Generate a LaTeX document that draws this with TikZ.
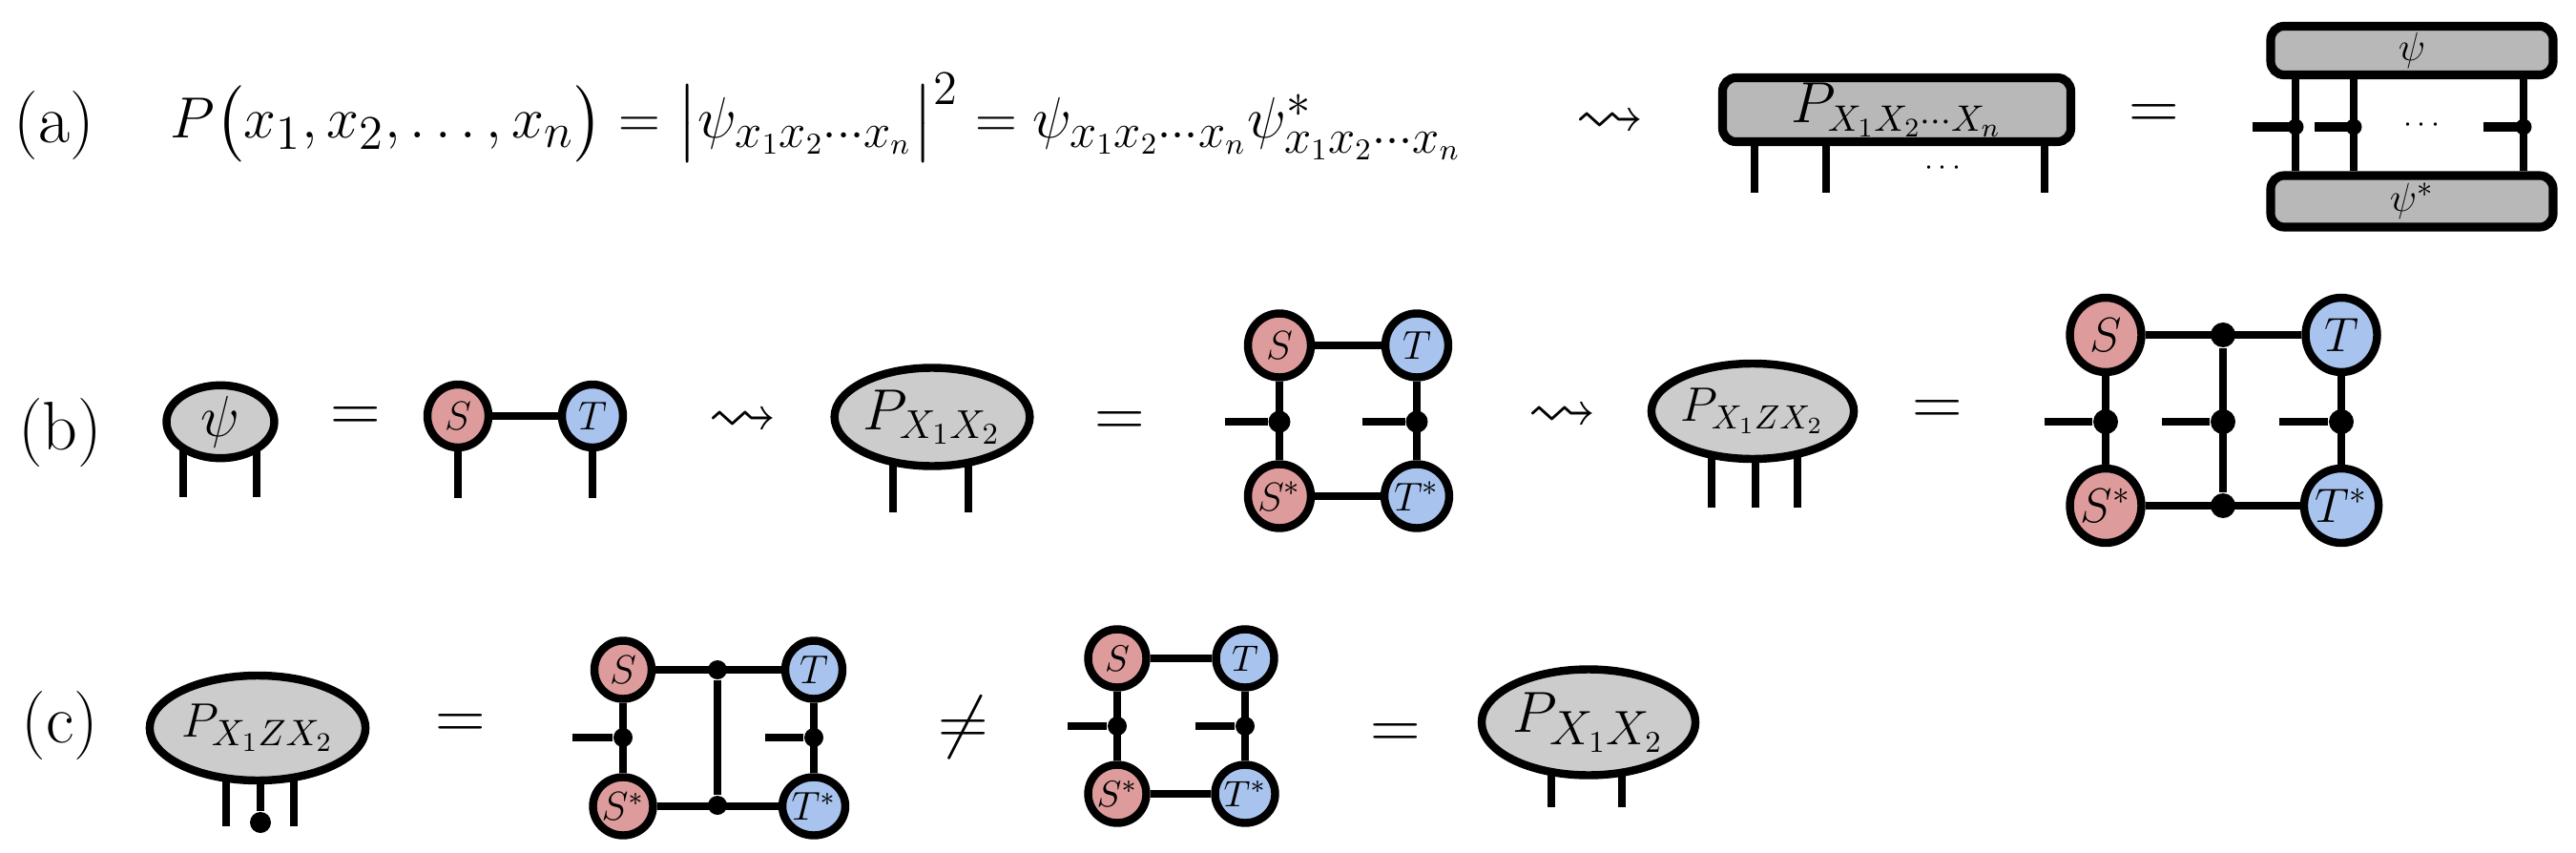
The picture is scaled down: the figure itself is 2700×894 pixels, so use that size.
\documentclass[tikz,border=0pt]{standalone}
\usepackage{amsmath}
\usepackage{amssymb}
\usetikzlibrary{shapes.geometric,backgrounds}

\definecolor{blobgray}{RGB}{204,204,204}
\definecolor{slabgray}{RGB}{184,184,184}
\definecolor{spink}{RGB}{222,155,155}
\definecolor{tblue}{RGB}{168,196,238}
\newcommand{\fsz}[1]{\fontsize{#1}{#1}\selectfont}

\tikzset{
  blob/.style={ellipse,draw,line width=2.4pt,fill=blobgray,inner sep=0pt},
  snode/.style={blob,fill=spink},
  tnode/.style={blob,fill=tblue},
  slab/.style={rectangle,rounded corners=4pt,draw,line width=2.6pt,fill=slabgray,inner sep=0pt},
  sz/.style 2 args={minimum width=#1*0.01cm,minimum height=#2*0.01cm},
  leg/.style={line width=2.4pt},
  junc/.style={circle,fill,inner sep=0pt,minimum size=#1*0.01cm},
  rel/.style={font=\fsz{20.5}},
}

\begin{document}
\begin{tikzpicture}[x=0.01cm,y=-0.01cm]
  \useasboundingbox (0,0) rectangle (2700,894);

  % (a)
  \node[rel,anchor=base] (la) at (57,150) {(a)};
  \node[font=\fsz{19},anchor=base west] (pform) at (166,145)
    {$P\bigl(x_1,x_2,\ldots,x_n\bigr)=\bigl|\psi_{x_1x_2\cdots x_n}\bigr|^2=\psi_{x_1x_2\cdots x_n}\psi^*_{x_1x_2\cdots x_n}$};
  \node[rel] (sqa) at (1688,130) {$\rightsquigarrow$};
  \node[slab,sz={365}{67},font=\fsz{16}] (pbox) at (1988,115) {$P_{X_1X_2\cdots X_n}$};
  \coordinate (pl1) at (1839,202);
  \coordinate (pl2) at (1914,202);
  \coordinate (pl3) at (2143,202);
  \node[font=\fsz{9.5}] (pdots) at (2039,176) {$\cdots$};
  \node[rel] (eqa) at (2258,123) {$=$};
  \node[slab,sz={296}{51},font=\fsz{13}] (psibox) at (2528,53) {$\psi$};
  \node[slab,sz={296}{54},font=\fsz{13}] (psisbox) at (2528,211) {$\psi^*$};
  \node[junc=17] (ja1) at (2406,133) {};
  \node[junc=17] (ja2) at (2467,133) {};
  \node[junc=17] (ja3) at (2645,133) {};
  \coordinate (sa1) at (2361,133);
  \coordinate (sa2) at (2426,133);
  \coordinate (sa3) at (2603,133);
  \node[font=\fsz{9.5}] (adots) at (2541,131) {$\cdots$};
  \foreach \j in {1,2,3} {
    \draw[leg] (psibox.south -| ja\j) -- (psisbox.north -| ja\j);
    \draw[leg,line width=2.8pt] (sa\j) -- (ja\j.center);
  }

  % (b)
  \node[rel,anchor=base] (lb) at (63,471) {(b)};
  \node[blob,sz={113}{72},font=\fsz{16}] (psi) at (231,442) {$\psi$};
  \coordinate (bl1) at (192,521);
  \coordinate (bl2) at (269,521);
  \node[rel] (eqb1) at (373,440) {$=$};
  \node[snode,sz={64}{66},font=\fsz{12}] (S1) at (480,436) {$S$};
  \node[tnode,sz={64}{66},font=\fsz{12}] (T1) at (621,436) {$T$};
  \coordinate (bl3) at (480,522);
  \coordinate (bl4) at (621,522);
  \draw[leg] (S1) -- (T1);
  \draw[leg] (S1) -- (bl3);
  \draw[leg] (T1) -- (bl4);
  \node[rel] (sqb1) at (779,443) {$\rightsquigarrow$};

  \node[blob,sz={168}{103},font=\fsz{17.5}] (pb) at (977,437) {$P_{X_1X_2}$};
  \coordinate (bl5) at (936,537);
  \coordinate (bl6) at (1015,537);
  \node[rel] (eqb2) at (1174,445) {$=$};
  \node[snode,sz={66}{67},font=\fsz{13}] (S2) at (1341,362) {$S$};
  \node[tnode,sz={66}{67},font=\fsz{13}] (T2) at (1485,362) {$T$};
  \node[snode,sz={66}{67},font=\fsz{13}] (Ss2) at (1341,520) {$S^*$};
  \node[tnode,sz={66}{67},font=\fsz{13}] (Ts2) at (1485,520) {$T^*$};
  \draw[leg] (S2) -- (T2);
  \draw[leg] (Ss2) -- (Ts2);
  \draw[leg] (S2) -- (Ss2);
  \draw[leg] (T2) -- (Ts2);
  \node[junc=23] (jb1) at (1341,442) {};
  \node[junc=23] (jb2) at (1485,442) {};
  \coordinate (sb1) at (1284,442);
  \coordinate (sb2) at (1428,442);
  \draw[leg] (sb1) -- (jb1);
  \draw[leg] (sb2) -- (jb2);
  \node[rel] (sqb2) at (1638,438) {$\rightsquigarrow$};

  \node[blob,sz={162}{100},font=\fsz{13.8}] (pbz) at (1837,431) {$P_{X_1ZX_2}$};
  \coordinate (bl7) at (1794,532);
  \coordinate (bl8) at (1840,532);
  \coordinate (bl9) at (1884,532);
  \node[rel] (eqb3) at (2031,433) {$=$};
  \node[snode,sz={75}{78},font=\fsz{14}] (S3) at (2207,351) {$S$};
  \node[tnode,sz={75}{78},font=\fsz{14}] (T3) at (2454,351) {$T$};
  \node[snode,sz={75}{78},font=\fsz{14}] (Ss3) at (2207,530) {$S^*$};
  \node[tnode,sz={75}{78},font=\fsz{14}] (Ts3) at (2454,530) {$T^*$};
  \draw[leg] (S3) -- (T3);
  \draw[leg] (Ss3) -- (Ts3);
  \draw[leg] (S3) -- (Ss3);
  \draw[leg] (T3) -- (Ts3);
  \node[junc=26] (jb3) at (2330,351) {};
  \node[junc=26] (jb4) at (2330,530) {};
  \draw[leg] (jb3) -- (jb4);
  \node[junc=26] (jb5) at (2207,442) {};
  \node[junc=26] (jb6) at (2330,442) {};
  \node[junc=26] (jb7) at (2454,442) {};
  \coordinate (sb3) at (2143,442);
  \coordinate (sb4) at (2266,442);
  \coordinate (sb5) at (2389,442);
  \draw[leg] (sb3) -- (jb5);
  \draw[leg] (sb4) -- (jb6);
  \draw[leg] (sb5) -- (jb7);

  % (c)
  \node[rel,anchor=base] (lc) at (63,778) {(c)};
  \node[blob,sz={180}{110},font=\fsz{15.5}] (pcz) at (270,763) {$P_{X_1ZX_2}$};
  \coordinate (cl1) at (237,866);
  \coordinate (cl2) at (308,866);
  \node[junc=22] (jc0) at (273,862) {};
  \draw[leg] (pcz.south -| jc0) -- (jc0);
  \node[rel] (eqc1) at (483,762) {$=$};
  \node[snode,sz={60}{61},font=\fsz{11.5}] (S4) at (653,702) {$S$};
  \node[tnode,sz={60}{61},font=\fsz{11.5}] (T4) at (853,702) {$T$};
  \node[snode,sz={60}{61},font=\fsz{11.5}] (Ss4) at (653,845) {$S^*$};
  \node[tnode,sz={60}{61},font=\fsz{11.5}] (Ts4) at (853,845) {$T^*$};
  \draw[leg] (S4) -- (T4);
  \draw[leg] (Ss4) -- (Ts4);
  \draw[leg] (S4) -- (Ss4);
  \draw[leg] (T4) -- (Ts4);
  \node[junc=20] (jc1) at (752,702) {};
  \node[junc=20] (jc2) at (752,844) {};
  \draw[leg] (jc1) -- (jc2);
  \node[junc=20] (jc3) at (653,773) {};
  \node[junc=20] (jc4) at (853,773) {};
  \coordinate (sc1) at (600,773);
  \coordinate (sc2) at (802,773);
  \draw[leg] (sc1) -- (jc3);
  \draw[leg] (sc2) -- (jc4);
  \node[rel] (neqc) at (1010,762) {$\neq$};
  \node[snode,sz={61}{61},font=\fsz{11}] (S5) at (1171,690) {$S$};
  \node[tnode,sz={61}{61},font=\fsz{11}] (T5) at (1305,690) {$T$};
  \node[snode,sz={61}{61},font=\fsz{11}] (Ss5) at (1171,832) {$S^*$};
  \node[tnode,sz={61}{61},font=\fsz{11}] (Ts5) at (1305,832) {$T^*$};
  \draw[leg] (S5) -- (T5);
  \draw[leg] (Ss5) -- (Ts5);
  \draw[leg] (S5) -- (Ss5);
  \draw[leg] (T5) -- (Ts5);
  \node[junc=20] (jc5) at (1171,761) {};
  \node[junc=20] (jc6) at (1305,761) {};
  \coordinate (sc3) at (1119,761);
  \coordinate (sc4) at (1253,761);
  \draw[leg] (sc3) -- (jc5);
  \draw[leg] (sc4) -- (jc6);
  \node[rel] (eqc2) at (1463,772) {$=$};
  \node[blob,sz={182}{111},font=\fsz{19}] (pc) at (1665,757) {$P_{X_1X_2}$};
  \coordinate (cl3) at (1626,846);
  \coordinate (cl4) at (1700,846);

  % legs under the blobs
  \begin{scope}[on background layer]
    \foreach \l in {pl1,pl2,pl3} \draw[leg] (pbox.center -| \l) -- (\l);
    \foreach \l in {bl1,bl2} \draw[leg] (psi.center -| \l) -- (\l);
    \foreach \l in {bl5,bl6} \draw[leg] (pb.center -| \l) -- (\l);
    \foreach \l in {bl7,bl8,bl9} \draw[leg] (pbz.center -| \l) -- (\l);
    \foreach \l in {cl1,cl2} \draw[leg] (pcz.center -| \l) -- (\l);
    \foreach \l in {cl3,cl4} \draw[leg] (pc.center -| \l) -- (\l);
  \end{scope}
\end{tikzpicture}
\end{document}
